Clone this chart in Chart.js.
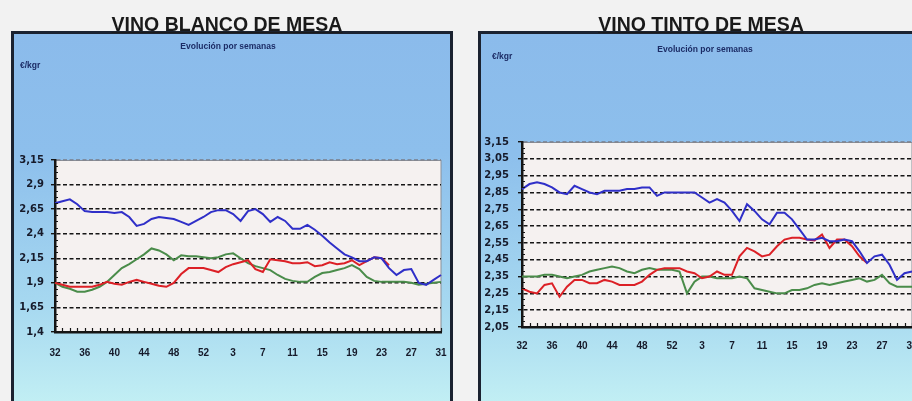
<!DOCTYPE html>
<html lang="es">
<head>
  <meta charset="UTF-8" />
  <title>Vino de mesa</title>
  <script src="https://cdn.jsdelivr.net/npm/chart.js"></script>
  <style>
    body { margin: 0; width: 912px; height: 401px; overflow: hidden; position: relative;
           background: #f2f2f2; font-family: "Liberation Sans", Arial, sans-serif; }
    .panel { position: absolute; top: 31px; height: 380px; box-sizing: border-box;
             border: 3px solid #1b2230;
             background: linear-gradient(to bottom, #8bbbeb 0%, #8dbfec 32%, #a6d8f0 72%, #c3f0f4 100%); }
    .panel canvas { position: absolute; left: 0; top: 0; }
    .titulo { position: absolute; top: 15px; font-size: 19.5px; line-height: 19px; font-weight: bold;
              color: #1a1a1a; text-decoration: underline; white-space: nowrap; z-index: 2;
              transform: translateX(-50%); }
    .sub { position: absolute; font-size: 8.5px; line-height: 9px; font-weight: bold; color: #1c2c66;
           white-space: nowrap; z-index: 2; }
  </style>
</head>
<body>
  <div class="titulo" style="left:227px">VINO BLANCO DE MESA</div>
  <div class="titulo" style="left:701px">VINO TINTO DE MESA</div>

  <div class="panel" style="left:11px; width:442px;">
    <canvas id="blanco" width="436" height="340"></canvas>
  </div>
  <div class="panel" style="left:478px; width:446px;">
    <canvas id="tinto" width="440" height="340"></canvas>
  </div>

  <div class="sub" style="left:228px; top:42px; transform:translateX(-50%)">Evolución por semanas</div>
  <div class="sub" style="left:20px; top:61px">€/kgr</div>
  <div class="sub" style="left:705px; top:45px; transform:translateX(-50%)">Evolución por semanas</div>
  <div class="sub" style="left:492px; top:52px">€/kgr</div>

  <script>
    const semanas = ['32','33','34','35','36','37','38','39','40','41','42','43','44','45','46','47','48',
      '49','50','51','52','53','1','2','3','4','5','6','7','8','9','10','11','12','13','14','15','16','17',
      '18','19','20','21','22','23','24','25','26','27','28','29','30','31'];

    const ticksBlanco = [1.4, 1.65, 1.9, 2.15, 2.4, 2.65, 2.9, 3.15];
    const ticksTinto = [2.05, 2.15, 2.25, 2.35, 2.45, 2.55, 2.65, 2.75, 2.85, 2.95, 3.05, 3.15];

    // vino blanco
    const blancoAzul = [2.71, 2.73, 2.75, 2.70, 2.63, 2.62, 2.62, 2.62, 2.61, 2.62, 2.57, 2.48, 2.50,
      2.55, 2.57, 2.56, 2.55, 2.52, 2.49, 2.53, 2.57, 2.62, 2.64, 2.64, 2.60, 2.53, 2.63, 2.65, 2.60,
      2.52, 2.57, 2.53, 2.45, 2.45, 2.49, 2.44, 2.38, 2.31, 2.25, 2.19, 2.16, 2.12, 2.12, 2.16, 2.15,
      2.05, 1.98, 2.03, 2.04, 1.90, 1.88, 1.93, 1.98];
    const blancoRojo = [1.90, 1.88, 1.86, 1.86, 1.86, 1.86, 1.88, 1.91, 1.89, 1.88, 1.91, 1.93, 1.91,
      1.89, 1.87, 1.86, 1.90, 1.99, 2.05, 2.05, 2.05, 2.03, 2.01, 2.06, 2.09, 2.11, 2.13, 2.04, 2.01,
      2.14, 2.13, 2.12, 2.10, 2.10, 2.11, 2.07, 2.08, 2.11, 2.09, 2.10, 2.13, 2.08, 2.12, 2.16, 2.15,
      2.08, null, null, null, null, null, null, null];
    const blancoVerde = [1.90, 1.86, 1.84, 1.81, 1.81, 1.83, 1.86, 1.91, 1.98, 2.05, 2.09, 2.14, 2.19,
      2.25, 2.23, 2.19, 2.13, 2.18, 2.17, 2.17, 2.16, 2.15, 2.16, 2.19, 2.20, 2.15, 2.10, 2.07, 2.05,
      2.03, 1.98, 1.94, 1.92, 1.91, 1.91, 1.96, 2.00, 2.01, 2.03, 2.05, 2.08, 2.04, 1.96, 1.92, 1.91,
      1.91, 1.91, 1.91, 1.90, 1.88, 1.89, 1.90, 1.91];

    // vino tinto
    const tintoAzul = [2.87, 2.90, 2.91, 2.90, 2.88, 2.85, 2.84, 2.89, 2.87, 2.85, 2.84, 2.86, 2.86,
      2.86, 2.87, 2.87, 2.88, 2.88, 2.83, 2.85, 2.85, 2.85, 2.85, 2.85, 2.82, 2.79, 2.81, 2.79, 2.74,
      2.68, 2.78, 2.74, 2.69, 2.66, 2.73, 2.73, 2.69, 2.63, 2.57, 2.57, 2.58, 2.56, 2.56, 2.57, 2.56,
      2.50, 2.43, 2.47, 2.48, 2.42, 2.33, 2.37, 2.38];
    const tintoRojo = [2.28, 2.26, 2.25, 2.30, 2.31, 2.23, 2.29, 2.33, 2.33, 2.31, 2.31, 2.33, 2.32,
      2.30, 2.30, 2.30, 2.32, 2.36, 2.39, 2.40, 2.40, 2.40, 2.38, 2.37, 2.34, 2.35, 2.38, 2.36, 2.36,
      2.47, 2.52, 2.50, 2.47, 2.48, 2.53, 2.57, 2.58, 2.58, 2.57, 2.565, 2.60, 2.52, 2.57, 2.57, 2.53,
      2.47, 2.43, null, null, null, null, null, null];
    const tintoVerde = [2.35, 2.35, 2.35, 2.36, 2.36, 2.35, 2.34, 2.35, 2.36, 2.38, 2.39, 2.40, 2.41,
      2.40, 2.38, 2.37, 2.39, 2.40, 2.39, 2.39, 2.39, 2.38, 2.25, 2.32, 2.35, 2.35, 2.34, 2.34, 2.34,
      2.35, 2.34, 2.28, 2.27, 2.26, 2.25, 2.25, 2.27, 2.27, 2.28, 2.30, 2.31, 2.30, 2.31, 2.32, 2.33,
      2.34, 2.32, 2.33, 2.36, 2.31, 2.29, 2.29, 2.29];

    const fondoArea = {
      id: 'fondoArea',
      beforeDraw(chart) {
        const { ctx, chartArea: a } = chart;
        ctx.save();
        ctx.fillStyle = '#f5f1f0';
        ctx.fillRect(a.left, a.top, a.right - a.left, a.bottom - a.top);
        ctx.strokeStyle = '#8a8f98';
        ctx.lineWidth = 1;
        ctx.strokeRect(a.left, a.top + 0.5, a.right - a.left, a.bottom - a.top);
        ctx.restore();
      },
      // marcas interiores: una por semana en el eje x y secundarias en el eje y
      afterDraw(chart, args, opts) {
        const { ctx, chartArea: a, scales: { x, y } } = chart;
        const yTicks = opts.yTicks;
        ctx.save();
        ctx.strokeStyle = '#151515';
        ctx.lineWidth = 1.2;
        ctx.beginPath();
        semanas.forEach((s, i) => {
          const px = Math.round(x.getPixelForValue(i)) + 0.5;
          ctx.moveTo(px, a.bottom);
          ctx.lineTo(px, a.bottom - 4);
        });
        for (let k = 0; k < yTicks.length - 1; k++) {
          const step = (yTicks[k + 1] - yTicks[k]) / opts.sub;
          for (let j = 1; j < opts.sub; j++) {
            const py = Math.round(y.getPixelForValue(yTicks[k] + j * step)) + 0.5;
            ctx.moveTo(a.left, py);
            ctx.lineTo(a.left + 3, py);
          }
        }
        ctx.stroke();
        ctx.restore();
      }
    };

    function crear(id, azul, rojo, verde, yTicks, sub, padTop, axisH, labelPad, yPad) {
      const serie = (label, data, color) => ({
        label, data, borderColor: color, borderWidth: 2, pointRadius: 0,
        tension: 0, fill: false, spanGaps: false
      });
      return new Chart(document.getElementById(id), {
        type: 'line',
        data: {
          labels: semanas,
          datasets: [
            serie('Año anterior', azul, '#2f2fc8'),
            serie('Año actual', rojo, '#dc2026'),
            serie('Media', verde, '#4a8c4a')
          ]
        },
        options: {
          responsive: false,
          animation: false,
          layout: { padding: { top: padTop, right: 9, left: 0, bottom: 0 } },
          plugins: {
            legend: { display: false }, tooltip: { enabled: false },
            fondoArea: { yTicks, sub }
          },
          scales: {
            x: {
              offset: false,
              afterFit(s) { s.height = axisH; s.paddingLeft = 0; s.paddingRight = 0; },
              grid: { display: true, drawOnChartArea: false, drawTicks: false },
              border: { display: true, color: '#151515', width: 2.5 },
              ticks: {
                autoSkip: false, maxRotation: 0, padding: labelPad, color: '#161a2a',
                font: { family: 'Liberation Sans', size: 10, weight: 'bold' },
                callback(v, i) { return i % 4 === 0 ? semanas[i] : ''; }
              }
            },
            y: {
              min: yTicks[0],
              max: yTicks[yTicks.length - 1],
              afterFit(s) { s.width = 41; },
              afterBuildTicks(s) { s.ticks = yTicks.map(v => ({ value: v })); },
              grid: {
                drawTicks: true, tickLength: 4, lineWidth: 1.4,
                color: c => (c.index === yTicks.length - 1 ? 'rgba(120,120,130,0.7)' : (c.index === 0 ? 'rgba(0,0,0,0)' : '#151515')),
                tickColor: '#151515'
              },
              border: { display: true, color: '#151515', width: 2.5, dash: [4, 2.5] },
              ticks: {
                padding: yPad, color: '#161a2a',
                font: { family: 'DejaVu Sans', size: 10, weight: 'bold' },
                callback: v => String(v).replace('.', ',')
              }
            }
          }
        },
        plugins: [fondoArea]
      });
    }

    crear('blanco', blancoAzul, blancoRojo, blancoVerde, ticksBlanco, 4, 126, 42, 15, 7);
    crear('tinto', tintoAzul, tintoRojo, tintoVerde, ticksTinto, 3, 108, 47, 13, 9);
  </script>
</body>
</html>
